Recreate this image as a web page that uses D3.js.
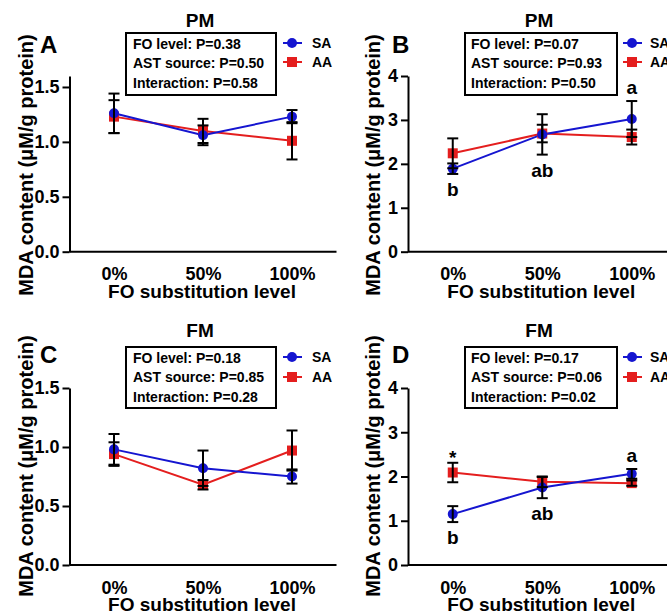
<!DOCTYPE html>
<html><head><meta charset="utf-8">
<script src="https://cdn.jsdelivr.net/npm/d3@7"></script>
<style>
body{margin:0;background:#fff;}
svg{display:block;font-family:"Liberation Sans",Arial,sans-serif;font-weight:bold;}
</style></head>
<body><svg id="chart" width="667" height="612"></svg>
<script>
// ---------- data ----------
const categories = ["0%", "50%", "100%"];
const seriesNames = ["SA", "AA"];
const seriesColors = ["#1515d0", "#e41e1e"];

const panelLetters = ["A", "B", "C", "D"];
const panelTitles = ["PM", "PM", "FM", "FM"];

const statsA = ["FO level: P=0.38", "AST source: P=0.50", "Interaction: P=0.58"];
const statsB = ["FO level: P=0.07", "AST source: P=0.93", "Interaction: P=0.50"];
const statsC = ["FO level: P=0.18", "AST source: P=0.85", "Interaction: P=0.28"];
const statsD = ["FO level: P=0.17", "AST source: P=0.06", "Interaction: P=0.02"];

const saA = [1.26, 1.06, 1.23], saErrA = [0.18, 0.09, 0.06];
const aaA = [1.23, 1.10, 1.01], aaErrA = [0.15, 0.11, 0.17];
const saB = [1.89, 2.67, 3.02], saErrB = [0.12, 0.46, 0.41];
const aaB = [2.24, 2.69, 2.61], aaErrB = [0.34, 0.20, 0.17];
const saC = [0.98, 0.82, 0.75], saErrC = [0.13, 0.15, 0.06];
const aaC = [0.94, 0.68, 0.97], aaErrC = [0.10, 0.04, 0.17];
const saD = [1.15, 1.75, 2.06], saErrD = [0.18, 0.24, 0.11];
const aaD = [2.09, 1.88, 1.85], aaErrD = [0.22, 0.12, 0.06];

const yMaxes = [1.6, 4, 1.5, 4];
const yTicksA = [0, 0.5, 1.0, 1.5];
const yTicksB = [0, 1, 2, 3, 4];
const yTicksC = [0, 0.5, 1.0, 1.5];
const yTicksD = [0, 1, 2, 3, 4];

const lettersB = [{cat: "0%", text: "b", side: "below"}, {cat: "50%", text: "ab", side: "below"}, {cat: "100%", text: "a", side: "above"}];
const lettersD = [{cat: "0%", text: "*", side: "star"}, {cat: "0%", text: "b", side: "below"}, {cat: "50%", text: "ab", side: "below"}, {cat: "100%", text: "a", side: "above"}];

const yTitle = "MDA content (\u03bcM/g protein)";
const xTitle = "FO substitution level";

// ---------- layout ----------
const cols = [
  {axisX: 69.5, right: 336.5, box: [126, 276], textX: 133, legMark: 292, legText: 312, titleX: 200, letterX: 40, yLabX: 33},
  {axisX: 408, right: 676.5, box: [465, 617], textX: 471, legMark: 632, legText: 650, titleX: 539, letterX: 392, yLabX: 380}
];
const rows = [
  {top: 76, bottom: 251.7, title: 27, letter: 53, box: [33, 95], lines: [49, 68, 88], leg: [43, 62], yLabY: 165},
  {top: 388, bottom: 565, title: 337, letter: 363, box: [347, 408], lines: [363, 382, 402], leg: [357, 377], yLabY: 466}
];

const panels = [
  {sa: saA, saErr: saErrA, aa: aaA, aaErr: aaErrA, stats: statsA, ticks: yTicksA, fmt: d3.format(".1f"), letters: []},
  {sa: saB, saErr: saErrB, aa: aaB, aaErr: aaErrB, stats: statsB, ticks: yTicksB, fmt: d3.format("d"), letters: lettersB},
  {sa: saC, saErr: saErrC, aa: aaC, aaErr: aaErrC, stats: statsC, ticks: yTicksC, fmt: d3.format(".1f"), letters: []},
  {sa: saD, saErr: saErrD, aa: aaD, aaErr: aaErrD, stats: statsD, ticks: yTicksD, fmt: d3.format("d"), letters: lettersD}
];

const svg = d3.select("#chart");

panels.forEach((p, i) => {
  const col = cols[i % 2], row = rows[Math.floor(i / 2)];
  const g = svg.append("g");

  const x = d3.scalePoint().domain(categories).range([col.axisX, col.right]).padding(0.5);
  const y = d3.scaleLinear().domain([0, yMaxes[i]]).range([row.bottom, row.top]);

  // y axis
  const ya = g.append("g").attr("transform", `translate(${col.axisX},0)`)
    .call(d3.axisLeft(y).tickValues(p.ticks).tickFormat(p.fmt).tickSize(7).tickSizeOuter(0).tickPadding(3));
  ya.select(".domain").attr("stroke-width", 2);
  ya.selectAll(".tick line").attr("stroke-width", 2);
  ya.selectAll("text").attr("font-size", 18).attr("font-weight", "bold").attr("font-family", "Liberation Sans, Arial, sans-serif").attr("fill", "#000");

  // x axis
  const xa = g.append("g").attr("transform", `translate(0,${row.bottom})`)
    .call(d3.axisBottom(x).tickSize(0).tickSizeOuter(0).tickPadding(16));
  xa.select(".domain").attr("stroke-width", 2).attr("d", `M${col.axisX},0H${col.right}`);
  xa.selectAll("text").attr("font-size", 18).attr("font-weight", "bold").attr("font-family", "Liberation Sans, Arial, sans-serif").attr("fill", "#000");

  // axis titles
  g.append("text").attr("x", (col.axisX + col.right) / 2 - 1).attr("y", row.bottom + 46)
    .attr("text-anchor", "middle").attr("font-size", 19).text(xTitle);
  g.append("text").attr("transform", `translate(${col.yLabX},${row.yLabY}) rotate(-90)`)
    .attr("text-anchor", "middle").attr("font-size", 20).text(yTitle);

  // panel title & letter
  g.append("text").attr("x", col.titleX).attr("y", row.title).attr("text-anchor", "middle").attr("font-size", 19).text(panelTitles[i]);
  g.append("text").attr("x", col.letterX).attr("y", row.letter).attr("font-size", 24).text(panelLetters[i]);

  // stats box
  g.append("rect").attr("x", col.box[0]).attr("y", row.box[0])
    .attr("width", col.box[1] - col.box[0]).attr("height", row.box[1] - row.box[0])
    .attr("fill", "#fff").attr("stroke", "#000").attr("stroke-width", 2);
  p.stats.forEach((s, k) => {
    g.append("text").attr("x", col.textX).attr("y", row.lines[k]).attr("font-size", 14).text(s);
  });

  // legend
  seriesNames.forEach((name, k) => {
    const ly = row.leg[k];
    g.append("line").attr("x1", col.legMark - 9).attr("x2", col.legMark + 10).attr("y1", ly).attr("y2", ly)
      .attr("stroke", seriesColors[k]).attr("stroke-width", 2);
    if (k === 0) g.append("circle").attr("cx", col.legMark).attr("cy", ly).attr("r", 5).attr("fill", seriesColors[k]);
    else g.append("rect").attr("x", col.legMark - 5).attr("y", ly - 5).attr("width", 10).attr("height", 10).attr("fill", seriesColors[k]);
    g.append("text").attr("x", col.legText).attr("y", ly + 5).attr("font-size", 14).text(name);
  });

  // series data: draw AA first then SA
  const series = [
    {name: "AA", vals: p.aa, errs: p.aaErr, color: seriesColors[1], shape: "square"},
    {name: "SA", vals: p.sa, errs: p.saErr, color: seriesColors[0], shape: "circle"}
  ];
  const line = d3.line().x((d, j) => x(categories[j])).y(d => y(d));
  series.forEach(s => {
    g.append("path").attr("d", line(s.vals)).attr("fill", "none").attr("stroke", s.color).attr("stroke-width", 2);
  });
  series.forEach(s => {
    s.vals.forEach((v, j) => {
      const cx = x(categories[j]), cy = y(v);
      if (s.shape === "circle") g.append("circle").attr("cx", cx).attr("cy", cy).attr("r", 5).attr("fill", s.color);
      else g.append("rect").attr("x", cx - 5).attr("y", cy - 5).attr("width", 10).attr("height", 10).attr("fill", s.color);
    });
  });
  // error bars on top
  series.forEach(s => {
    s.vals.forEach((v, j) => {
      const cx = x(categories[j]);
      const y1 = y(v - s.errs[j]), y2 = y(v + s.errs[j]);
      g.append("line").attr("x1", cx).attr("x2", cx).attr("y1", y1).attr("y2", y2).attr("stroke", "#000").attr("stroke-width", 2);
      [y1, y2].forEach(yy => g.append("line").attr("x1", cx - 5.5).attr("x2", cx + 5.5).attr("y1", yy).attr("y2", yy).attr("stroke", "#000").attr("stroke-width", 2));
    });
  });

  // significance letters
  p.letters.forEach(l => {
    const j = categories.indexOf(l.cat);
    const hi = Math.max(p.sa[j] + p.saErr[j], p.aa[j] + p.aaErr[j]);
    const lo = Math.min(p.sa[j] - p.saErr[j], p.aa[j] - p.aaErr[j]);
    let yy;
    if (l.side === "below") yy = y(lo) + 22;
    else if (l.side === "above") yy = y(hi) - 7;
    else yy = y(hi) + 1;
    g.append("text").attr("x", x(l.cat)).attr("y", yy).attr("text-anchor", "middle").attr("font-size", 19).text(l.text);
  });
});
</script>
</body></html>
